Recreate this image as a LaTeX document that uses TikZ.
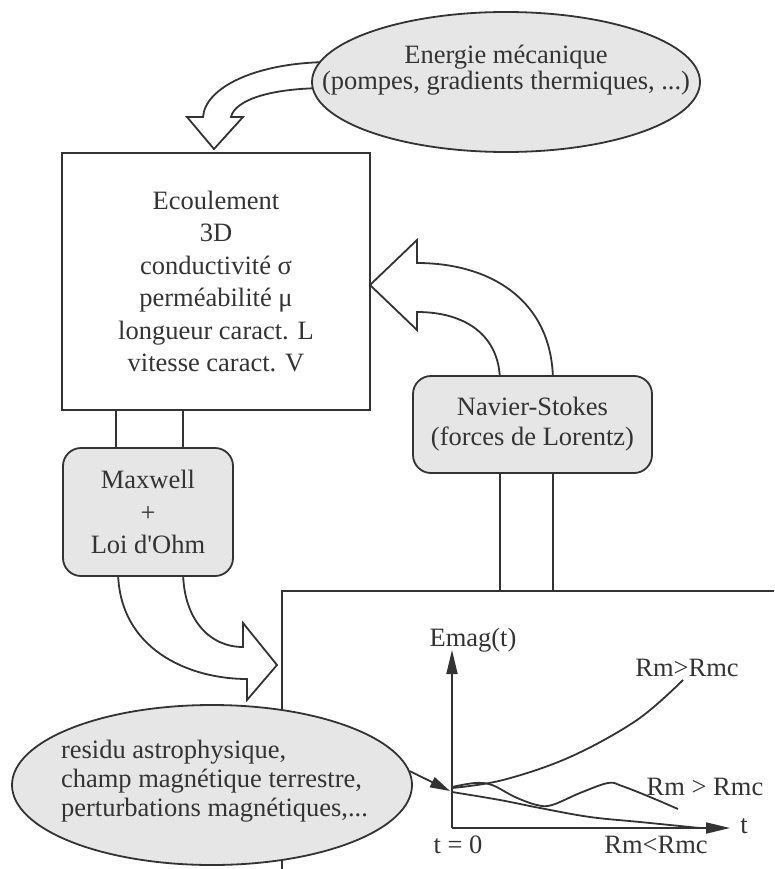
\documentclass[tikz,border=0pt]{standalone}
\usepackage{fontspec}
\setmainfont{Liberation Serif}
\newfontfamily\rawserif{Liberation Serif}
\usetikzlibrary{shapes.geometric,arrows.meta}
\definecolor{ln}{HTML}{333333}
\definecolor{gfill}{HTML}{E6E6E6}
\begin{document}
\begin{tikzpicture}[x=1pt,y=-1pt,line width=1.8pt,
  txt/.style={font=\fontsize{26.5}{32.4}\selectfont,text=ln},
  mainbox/.style={draw=ln,rectangle,inner sep=0pt,txt,align=center},
  rbox/.style={draw=ln,fill=gfill,rectangle,rounded corners=18pt,inner sep=0pt,txt,align=center},
  gell/.style={draw=ln,fill=gfill,ellipse,inner sep=0pt},
  hollow/.style={draw=ln,fill=white,line join=miter},
  axarrow/.style={draw=ln,-{Triangle[length=24pt,width=11pt]}},
  curve/.style={draw=ln,line width=1.8pt},
  conn/.style={draw=ln,line width=1.8pt}]
\useasboundingbox (0,0) rectangle (774,869);

% main flow box
\node[mainbox,minimum width=308pt,minimum height=257pt] (ecoul) at (216,281.5)
  {Ecoulement\\3D\\conductivité σ\\perméabilité μ\\longueur caract. L\\vitesse caract. V};

% hollow arrow from energy ellipse to box
\path[hollow] (332,62) .. controls (255,62) and (205,88) .. (203,117)
  -- (187,117) -- (214,149) -- (243,117) -- (231,117)
  .. controls (235,100) and (270,88) .. (328,88) -- cycle;

% energy ellipse
\node[gell,minimum width=388pt,minimum height=140pt] (energie) at (506,82) {};
\node[txt,align=center,font=\fontsize{26.5}{25.5}\selectfont] (energietxt) at (506,70)
  {Energie mécanique\\(pompes, gradients thermiques, ...)};

% Navier-Stokes hollow arrow (towards box)
\path[hollow] (553,382) .. controls (553,300) and (490,263) .. (417,263)
  -- (417,240) -- (370,285) -- (417,330) -- (417,312)
  .. controls (465,312) and (500,335) .. (500,382) -- cycle;

% Navier-Stokes box
\node[rbox,minimum width=239pt,minimum height=97pt,font=\fontsize{26.5}{30}\selectfont] (navier) at (532.5,424.5)
  {Navier-Stokes\\(forces de Lorentz)};

% Maxwell hollow arrow (towards plot)
\path[hollow] (118,570) .. controls (118,650) and (190,679) .. (247,679)
  -- (247,700) -- (277,665) -- (243,623) -- (243,647)
  .. controls (210,647) and (183,620) .. (183,570) -- cycle;

% Maxwell box
\node[rbox,minimum width=170pt,minimum height=128pt] (maxwell) at (148,512)
  {Maxwell\\+\\Loi d{\rawserif '}Ohm};

% connectors box - Maxwell
\coordinate (mx1) at (116,0);
\coordinate (mx2) at (183,0);
\draw[conn] (ecoul.south -| mx1) -- (maxwell.north -| mx1);
\draw[conn] (ecoul.south -| mx2) -- (maxwell.north -| mx2);

% plot frame
\coordinate (pf) at (282,591);
\coordinate (pfb) at (282,869);
\coordinate (pfr) at (774,591);
\draw[conn] (pfb) -- (pf) -- (pfr);

% connectors Navier-Stokes - plot frame
\coordinate (nx1) at (500,0);
\coordinate (nx2) at (553,0);
\draw[conn] (navier.south -| nx1) -- (pf -| nx1);
\draw[conn] (navier.south -| nx2) -- (pf -| nx2);

% axes
\coordinate (o) at (452,828);
\coordinate (ytip) at (452,650);
\coordinate (xtip) at (730,828);
\draw[axarrow] (o) -- (ytip);
\draw[axarrow] (o) -- (xtip);

% curves
\draw[curve] plot[smooth,tension=0.6] coordinates {(452,788) (503,780) (570,757) (637,720) (683,680)};
\draw[curve] plot[smooth,tension=0.6] coordinates {(452,787) (475,783) (492,785) (515,797) (537,805) (552,805) (580,793) (608,783) (622,786) (650,797) (678,809)};
\draw[curve] plot[smooth,tension=0.6] coordinates {(452,792) (500,800) (540,808) (590,817) (640,822) (700,828)};

% plot labels
\node[txt,inner sep=0pt] (lemag) at (473,640) {Emag(t)};
\node[txt,inner sep=0pt] (lgt) at (687,668) {Rm>Rmc};
\node[txt,inner sep=0pt] (lgt2) at (705,787) {Rm > Rmc};
\node[txt,inner sep=0pt] (lt) at (744,826) {t};
\node[txt,inner sep=0pt] (lt0) at (458,845) {t = 0};
\node[txt,inner sep=0pt] (llt) at (656,845) {Rm<Rmc};

% residual field ellipse
\node[gell,minimum width=400pt,minimum height=160pt] (resid) at (212,785) {};
\node[txt,align=left,font=\fontsize{26.5}{29}\selectfont] (residtxt) at (214.5,781)
  {residu astrophysique,\\champ magnétique terrestre,\\perturbations magnétiques,...};

\coordinate (start) at (450,791);
\draw[draw=ln,-{Triangle[length=20pt,width=11pt]}] (resid.4) -- (start);
\end{tikzpicture}
\end{document}
